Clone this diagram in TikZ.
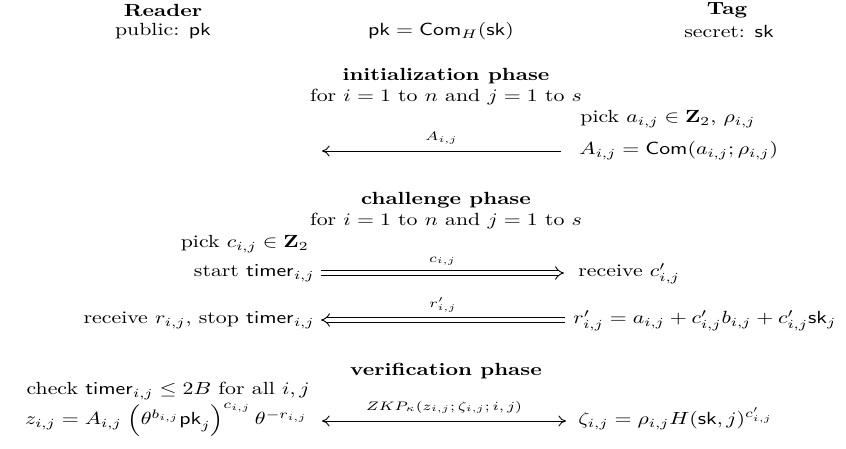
\documentclass[tikz,border=0pt]{standalone}
\usepackage{amsmath,amssymb}
\usetikzlibrary{arrows.meta}
\begin{document}
\begin{tikzpicture}[x=0.5pt,y=-0.5pt,
  sc/.style={xscale=1.09, yscale=0.88, transform shape},
  txt/.style={sc, inner sep=0pt},
  lft/.style={txt, anchor=mid east},
  rgt/.style={txt, anchor=mid west},
  msg/.style={line width=0.45pt},
  sgl/.style={msg, -{Computer Modern Rightarrow[length=3.8pt,width=5.5pt]}},
  dbl/.style={msg, double, double distance=1.9pt, -{Implies}},
  bth/.style={msg, {Computer Modern Rightarrow[length=3.8pt,width=5.5pt]}-{Computer Modern Rightarrow[length=3.8pt,width=5.5pt]}},
  lab/.style={sc, inner sep=0pt, font=\scriptsize}]
\useasboundingbox (0,0) rectangle (846,449);

% header
\node[txt] (reader) at (163,10) {\textbf{Reader}};
\node[txt] (tag) at (727,10) {\textbf{Tag}};
\node[txt] (pub) at (163,31) {public: $\mathsf{pk}$};
\node[txt] (pkeq) at (441,31) {$\mathsf{pk}=\mathsf{Com}_H(\mathsf{sk})$};
\node[txt] (sec) at (729,31) {secret: $\mathsf{sk}$};

% initialization
\node[txt] (init) at (446,76) {\textbf{initialization phase}};
\node[txt] (for1) at (446,97) {for $i=1$ to $n$ and $j=1$ to $s$};
\node[rgt] (picka) at (580,119) {pick $a_{i,j}\in\mathbf{Z}_2$, $\rho_{i,j}$};
\node[rgt] (Aeq) at (579,151) {$A_{i,j}=\mathsf{Com}(a_{i,j};\rho_{i,j})$};
\coordinate (aL) at (322,151);
\draw[sgl] ([xshift=-9pt]Aeq.mid west) -- (aL) node[lab, midway, above=3.5pt] {$A_{i,j}$};

% challenge
\node[txt] (chal) at (446,200) {\textbf{challenge phase}};
\node[txt] (for2) at (446,221) {for $i=1$ to $n$ and $j=1$ to $s$};
\node[lft] (pickc) at (309,244) {pick $c_{i,j}\in\mathbf{Z}_2$};
\node[lft] (start) at (315,273) {start $\mathsf{timer}_{i,j}$};
\node[rgt] (recv) at (578,273) {receive $c'_{i,j}$};
\draw[dbl] ([xshift=3pt]start.mid east) -- ([xshift=-7pt]recv.mid west)
  node[lab, midway, above=4pt] {$c_{i,j}$};
\node[lft] (recr) at (315,320) {receive $r_{i,j}$, stop $\mathsf{timer}_{i,j}$};
\node[rgt] (req) at (573,320) {$r'_{i,j}=a_{i,j}+c'_{i,j}b_{i,j}+c'_{i,j}\mathsf{sk}_j$};
\draw[dbl] ([xshift=-4pt]req.mid west) -- ([xshift=3pt]recr.mid east)
  node[lab, midway, above=4pt] {$r'_{i,j}$};

% verification
\node[txt] (ver) at (446,371) {\textbf{verification phase}};
\node[lft] (check) at (310,391) {check $\mathsf{timer}_{i,j}\le 2B$ for all $i,j$};
\node[lft] (zeq) at (308,421) {$z_{i,j}=A_{i,j}\;\Bigl(\theta^{b_{i,j}}\mathsf{pk}_j\Bigr)^{c_{i,j}}\,\theta^{-r_{i,j}}$};
\node[rgt] (zeta) at (578,421) {$\zeta_{i,j}=\rho_{i,j}H(\mathsf{sk},j)^{c'_{i,j}}$};
\draw[bth] ([xshift=7pt]zeq.mid east) -- ([xshift=-6pt]zeta.mid west)
  node[lab, midway, above=4pt] {$ZKP_\kappa(z_{i,j};\zeta_{i,j};i,j)$};
\end{tikzpicture}
\end{document}
